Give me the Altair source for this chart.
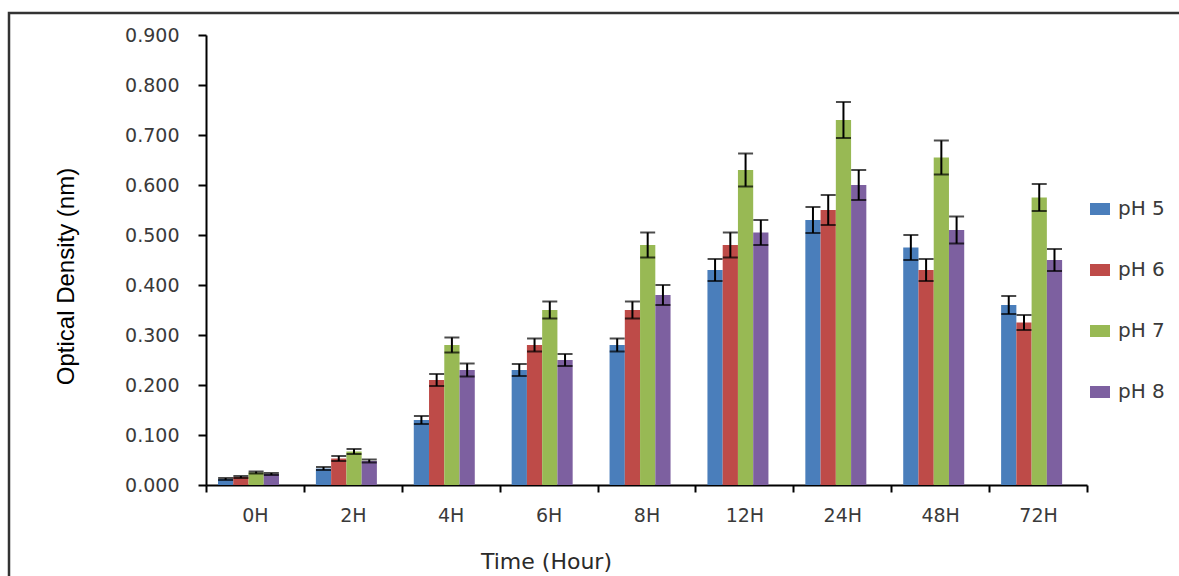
import altair as alt
import pandas as pd

categories = ["0H", "2H", "4H", "6H", "8H", "12H", "24H", "48H", "72H"]
series = ["pH 5", "pH 6", "pH 7", "pH 8"]
colors = ["#4A7EBB", "#BE4B48", "#98B954", "#7D60A0"]

values = {
    "pH 5": [0.012, 0.033, 0.130, 0.230, 0.280, 0.430, 0.530, 0.475, 0.360],
    "pH 6": [0.016, 0.053, 0.210, 0.280, 0.350, 0.480, 0.550, 0.430, 0.325],
    "pH 7": [0.025, 0.067, 0.280, 0.350, 0.480, 0.630, 0.730, 0.655, 0.575],
    "pH 8": [0.022, 0.048, 0.230, 0.250, 0.380, 0.505, 0.600, 0.510, 0.450],
}
errors = {
    "pH 5": [0.002, 0.003, 0.008, 0.012, 0.013, 0.022, 0.026, 0.025, 0.018],
    "pH 6": [0.002, 0.005, 0.012, 0.013, 0.017, 0.025, 0.030, 0.022, 0.015],
    "pH 7": [0.002, 0.005, 0.015, 0.017, 0.025, 0.033, 0.036, 0.034, 0.027],
    "pH 8": [0.002, 0.003, 0.013, 0.012, 0.020, 0.025, 0.030, 0.027, 0.022],
}

rows = []
for s in series:
    for c, v, e in zip(categories, values[s], errors[s]):
        rows.append({"time": c, "series": s, "value": v, "lo": v - e, "hi": v + e})
df = pd.DataFrame(rows)

W, H = 881, 450
PL, PT = 206, 35

x = alt.X("time:N", sort=categories, scale=alt.Scale(paddingInner=0, paddingOuter=0),
          axis=alt.Axis(title="Time (Hour)", tickBand="extent", labelAngle=0,
                        labelFont="DejaVu Sans", labelFontSize=19, labelColor="#3a3a3a",
                        labelPadding=14, tickSize=7, tickColor="black", tickWidth=2,
                        domainColor="black", domainWidth=2, grid=False,
                        titleFont="DejaVu Sans", titleFontSize=22, titleFontWeight="normal",
                        titleColor="#2a2a2a", titleX=340, titleY=83, titleAlign="center",
                        titleBaseline="alphabetic"))
xo = alt.XOffset("series:N", sort=series,
                 scale=alt.Scale(range=[12, 73], paddingInner=0, paddingOuter=0))
y = alt.Y("value:Q", scale=alt.Scale(domain=[0, 0.9], nice=False),
          axis=alt.Axis(title="Optical Density (nm)", values=[i / 10 for i in range(10)],
                        format=".3f", labelFont="DejaVu Sans", labelFontSize=19,
                        labelColor="#3a3a3a", labelPadding=19, tickSize=8,
                        tickColor="black", tickWidth=2, domainColor="black", domainWidth=2,
                        grid=False, titleFont="Liberation Sans Narrow, Liberation Sans",
                        titleFontSize=24, titleFontWeight="normal", titleColor="black",
                        titleX=-140, titleY=241, titleAngle=-90, titleAlign="center",
                        titleBaseline="middle"))
color = alt.Color("series:N", sort=series, scale=alt.Scale(domain=series, range=colors),
                  legend=alt.Legend(title=None, orient="none", legendX=884, legendY=164,
                                    symbolType="M-1,-0.6H1V0.6H-1Z", symbolSize=400,
                                    symbolStrokeWidth=0, rowPadding=41, labelOffset=8,
                                    labelFont="DejaVu Sans", labelFontSize=20,
                                    labelColor="#3a3a3a"))

base = alt.Chart(df)
bars = base.mark_bar().encode(x=x, xOffset=xo, y=y, color=color)
whisk = base.mark_rule(color="black", strokeWidth=2).encode(
    x=alt.X("time:N", sort=categories), xOffset=xo, y="lo:Q", y2="hi:Q")
cap_hi = base.mark_tick(color="black", thickness=2, size=15).encode(
    x=alt.X("time:N", sort=categories), xOffset=xo, y="hi:Q")
cap_lo = base.mark_tick(color="black", thickness=2, size=15).encode(
    x=alt.X("time:N", sort=categories), xOffset=xo, y="lo:Q")

frame = alt.Chart(pd.DataFrame({"a": [0]})).mark_rect(
    fill=None, stroke="#333333", strokeWidth=2.5).encode(
    x=alt.value(9 - PL), x2=alt.value(1300), y=alt.value(13 - PT), y2=alt.value(700))

chart = alt.layer(frame, bars, whisk, cap_hi, cap_lo).properties(
    width=W, height=H,
    background="white",
    autosize=alt.AutoSizeParams(type="none"),
    padding={"left": PL, "top": PT, "right": 1179 - PL - W, "bottom": 576 - PT - H},
).configure_view(strokeWidth=0, stroke=None)

chart.save("out.html", embed_options={"renderer": "svg", "actions": False})
